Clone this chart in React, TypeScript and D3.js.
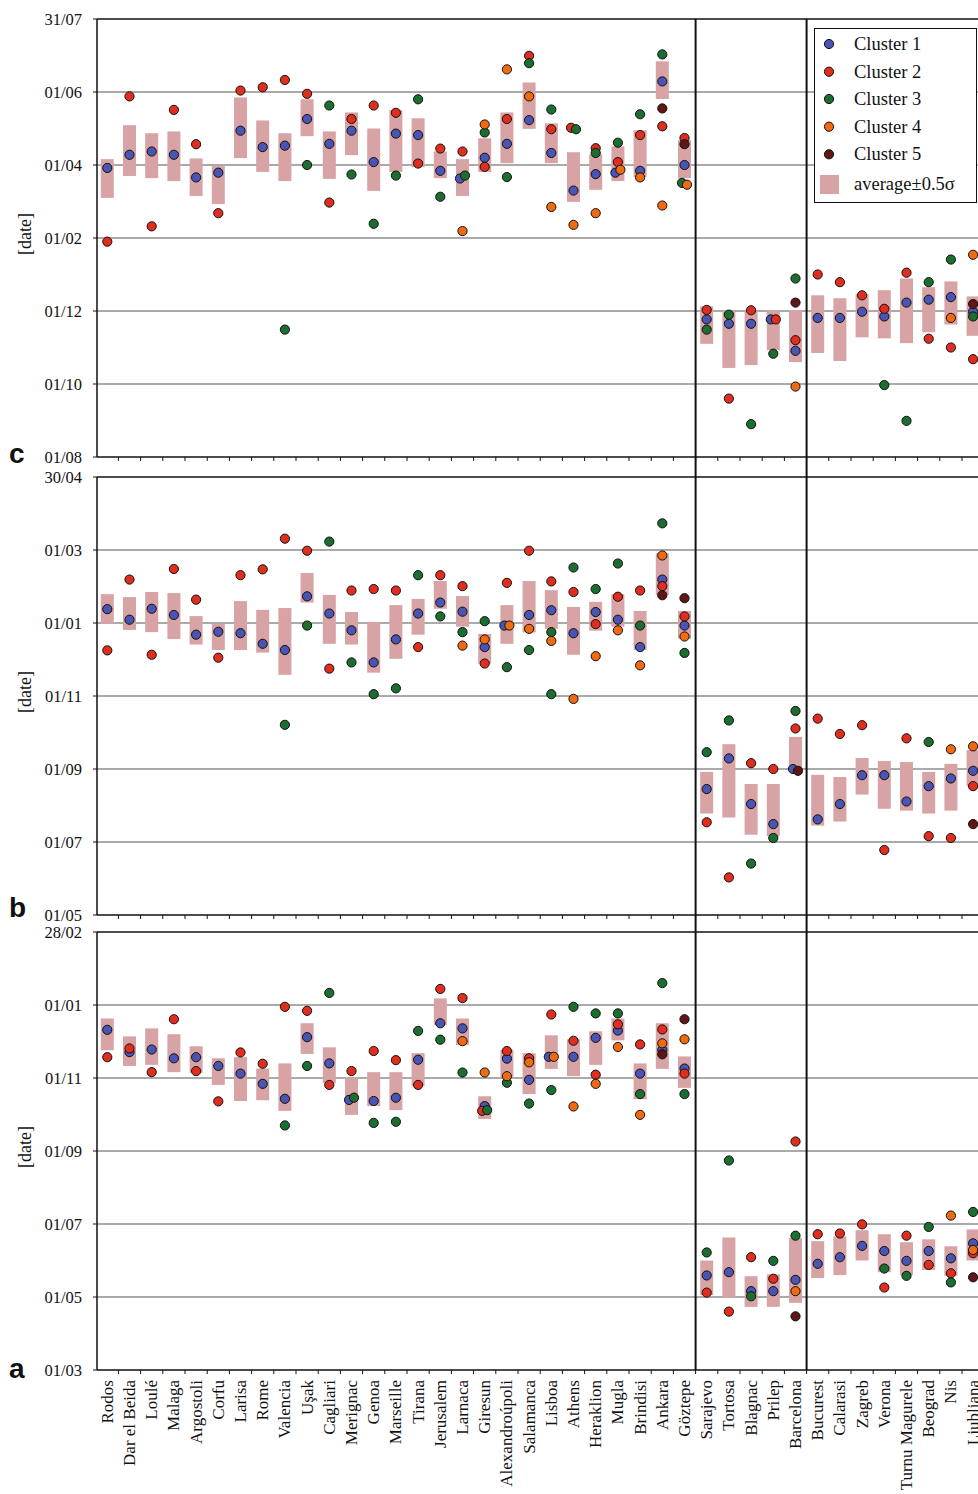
import React from "react";
import * as d3 from "d3";

// Stations in plotting order; vertical rules split them into three regional groups.
const stations = [
  "Rodos", "Dar el Beida", "Loulé", "Malaga", "Argostoli", "Corfu", "Larisa", "Rome",
  "Valencia", "Uşak", "Cagliari", "Merignac", "Genoa", "Marseille", "Tirana", "Jerusalem",
  "Larnaca", "Giresun", "Alexandroúpoli", "Salamanca", "Lisboa", "Athens", "Heraklion",
  "Mugla", "Brindisi", "Ankara", "Göztepe", "Sarajevo", "Tortosa", "Blagnac", "Prilep",
  "Barcelona", "Bucurest", "Calarasi", "Zagreb", "Verona", "Turnu Magurele", "Beograd",
  "Nis", "Ljubliana",
];
const groupBreaks = ["Sarajevo", "Bucurest"];

const clusterNames = ["Cluster 1", "Cluster 2", "Cluster 3", "Cluster 4", "Cluster 5"];
const clusterColors = ["#4a54b2", "#e12d1e", "#1b6e30", "#f06a12", "#5e1616"];
const bandLabel = "average±0.5σ";
const bandColor = "#d8a3a4";

// Axis labels; values are in months counted from the lowest tick.
const tickValues = [0, 2, 4, 6, 8, 10, 12];
const ticksC = ["01/08", "01/10", "01/12", "01/02", "01/04", "01/06", "31/07"];
const ticksB = ["01/05", "01/07", "01/09", "01/11", "01/01", "01/03", "30/04"];
const ticksA = ["01/03", "01/05", "01/07", "01/09", "01/11", "01/01", "28/02"];

// average±0.5σ bands per station: [low, high]
const bandsC: [number, number][] = [
  [7.10, 8.16], [7.70, 9.09], [7.64, 8.87], [7.56, 8.92], [7.15, 8.18], [6.93, 7.97],
  [8.19, 9.85], [7.81, 9.22], [7.56, 8.87], [8.79, 9.80], [7.62, 8.92], [8.27, 9.44],
  [7.29, 9.00], [7.81, 9.50], [7.94, 9.28], [7.64, 8.37], [7.15, 8.16], [7.81, 8.73],
  [8.05, 9.44], [8.99, 10.26], [8.05, 9.14], [6.99, 8.35], [7.32, 8.29], [7.56, 8.51],
  [7.67, 8.95], [9.81, 10.84], [7.64, 8.68], [3.10, 4.13], [2.44, 4.00], [2.52, 4.00],
  [2.93, 4.02], [2.60, 4.02], [2.85, 4.43], [2.63, 4.35], [3.28, 4.47], [3.25, 4.57],
  [3.12, 4.89], [3.42, 4.65], [3.63, 4.81], [3.32, 4.40],
];
const bandsB: [number, number][] = [
  [7.98, 8.79], [7.81, 8.71], [7.75, 8.85], [7.56, 8.82], [7.41, 8.19], [7.26, 7.98],
  [7.26, 8.60], [7.19, 8.36], [6.58, 8.41], [8.56, 9.37], [7.43, 8.77], [7.41, 8.30],
  [6.64, 8.03], [7.02, 8.49], [7.68, 8.66], [8.39, 9.15], [7.90, 8.74], [6.89, 7.70],
  [7.43, 8.49], [7.74, 9.15], [7.84, 8.90], [7.13, 8.44], [7.79, 8.58], [7.90, 8.79],
  [7.26, 8.33], [8.77, 9.91], [7.57, 8.33], [2.78, 3.92], [2.67, 4.68], [2.20, 3.59],
  [2.16, 3.59], [4.00, 4.88], [2.45, 3.84], [2.56, 3.78], [3.30, 4.30], [2.91, 4.22],
  [2.86, 4.19], [2.78, 3.92], [2.86, 4.14], [3.53, 4.52],
];
const bandsA: [number, number][] = [
  [8.76, 9.63], [8.33, 9.14], [8.36, 9.36], [8.16, 9.20], [8.14, 8.87], [7.81, 8.54],
  [7.37, 8.57], [7.39, 8.26], [7.10, 8.40], [8.66, 9.50], [7.86, 8.84], [6.99, 8.02],
  [7.23, 8.16], [7.12, 8.16], [7.78, 8.68], [9.45, 10.18], [8.90, 9.63], [6.88, 7.50],
  [8.02, 8.77], [7.56, 8.68], [8.25, 9.17], [8.05, 9.06], [8.36, 9.28], [9.03, 9.63],
  [7.42, 8.40], [8.25, 9.50], [7.73, 8.59], [2.05, 3.00], [1.98, 3.63], [1.73, 2.57],
  [1.73, 2.62], [1.84, 3.61], [2.52, 3.53], [2.60, 3.66], [3.00, 3.83], [2.68, 3.72],
  [2.60, 3.50], [2.74, 3.58], [2.58, 3.39], [3.00, 3.85],
];

// Cluster means per station: [cluster number, value]
const clustersC: [number, number][][] = [
  [[1, 7.92], [2, 5.90]],
  [[1, 8.28], [2, 9.88]],
  [[1, 8.37], [2, 6.32]],
  [[1, 8.28], [2, 9.51]],
  [[1, 7.66], [2, 8.57]],
  [[1, 7.79], [2, 6.68]],
  [[1, 8.94], [2, 10.04]],
  [[1, 8.49], [2, 10.13]],
  [[1, 8.53], [2, 10.33], [3, 3.49]],
  [[1, 9.26], [2, 9.95], [3, 8.00]],
  [[1, 8.58], [2, 6.97], [3, 9.63]],
  [[1, 8.94], [2, 9.26], [3, 7.74]],
  [[1, 8.08], [2, 9.63], [3, 6.39]],
  [[1, 8.86], [2, 9.43], [3, 7.71]],
  [[1, 8.82], [2, 8.04], [3, 9.80]],
  [[1, 7.84], [2, 8.45], [3, 7.13]],
  [[1, 7.63], [2, 8.37], [3, 7.71], [4, 6.19]],
  [[1, 8.20], [2, 7.95], [3, 8.89], [4, 9.11]],
  [[1, 8.58], [2, 9.26], [3, 7.67], [4, 10.62]],
  [[1, 9.23], [2, 10.99], [3, 10.79], [4, 9.88]],
  [[1, 8.33], [2, 8.98], [3, 9.52], [4, 6.85]],
  [[1, 7.30], [2, 9.02], [3, 8.98], [4, 6.36]],
  [[1, 7.75], [2, 8.46], [3, 8.33], [4, 6.68]],
  [[1, 7.79], [2, 8.08], [3, 8.61], [4, 7.87]],
  [[1, 7.84], [2, 8.82], [3, 9.39], [4, 7.66]],
  [[1, 10.29], [2, 9.06], [3, 11.03], [4, 6.89], [5, 9.55]],
  [[1, 8.00], [2, 8.74], [3, 7.51], [4, 7.46], [5, 8.57]],
  [[1, 3.77], [2, 4.03], [3, 3.49]],
  [[1, 3.65], [2, 1.60], [3, 3.90]],
  [[1, 3.65], [2, 4.02], [3, 0.90]],
  [[1, 3.77], [2, 3.77], [3, 2.83]],
  [[1, 2.91], [2, 3.20], [3, 4.89], [4, 1.93], [5, 4.23]],
  [[1, 3.81], [2, 5.00]],
  [[1, 3.81], [2, 4.79]],
  [[1, 3.98], [2, 4.43]],
  [[1, 3.85], [2, 4.06], [3, 1.97]],
  [[1, 4.23], [2, 5.05], [3, 0.99]],
  [[1, 4.31], [2, 3.24], [3, 4.79]],
  [[1, 4.38], [2, 3.00], [3, 5.41], [4, 3.81]],
  [[1, 3.98], [2, 2.68], [3, 3.85], [4, 5.54], [5, 4.19]],
];
const clustersB: [number, number][][] = [
  [[1, 8.38], [2, 7.25]],
  [[1, 8.09], [2, 9.19]],
  [[1, 8.39], [2, 7.13]],
  [[1, 8.22], [2, 9.48]],
  [[1, 7.68], [2, 8.64]],
  [[1, 7.76], [2, 7.05]],
  [[1, 7.72], [2, 9.31]],
  [[1, 7.43], [2, 9.47]],
  [[1, 7.26], [2, 10.31], [3, 5.21]],
  [[1, 8.73], [2, 9.98], [3, 7.93]],
  [[1, 8.26], [2, 6.75], [3, 10.23]],
  [[1, 7.80], [2, 8.89], [3, 6.92]],
  [[1, 6.92], [2, 8.93], [3, 6.05]],
  [[1, 7.55], [2, 8.89], [3, 6.21]],
  [[1, 8.26], [2, 7.34], [3, 9.31]],
  [[1, 8.56], [2, 9.31], [3, 8.18]],
  [[1, 8.31], [2, 9.01], [3, 7.75], [4, 7.38]],
  [[1, 7.34], [2, 6.89], [3, 8.05], [4, 7.55]],
  [[1, 7.93], [2, 9.10], [3, 6.79], [4, 7.93]],
  [[1, 8.22], [2, 9.98], [3, 7.26], [4, 7.84]],
  [[1, 8.35], [2, 9.14], [3, 7.75], [3, 6.05], [4, 7.51]],
  [[1, 7.72], [2, 8.85], [3, 9.52], [4, 5.92]],
  [[1, 8.30], [2, 7.97], [3, 8.93], [4, 7.09]],
  [[1, 8.09], [2, 8.72], [3, 9.63], [4, 7.80]],
  [[1, 7.34], [2, 8.89], [3, 7.93], [4, 6.84]],
  [[1, 9.19], [2, 9.01], [3, 10.73], [4, 9.85], [5, 8.76]],
  [[1, 7.93], [2, 8.18], [3, 7.18], [4, 7.63], [5, 8.68]],
  [[1, 3.45], [2, 2.54], [3, 4.46]],
  [[1, 4.29], [2, 1.03], [3, 5.33]],
  [[1, 3.04], [2, 4.16], [3, 1.41]],
  [[1, 2.49], [2, 4.00], [3, 2.11]],
  [[1, 4.00], [2, 5.11], [3, 5.59], [5, 3.95]],
  [[1, 2.62], [2, 5.38]],
  [[1, 3.04], [2, 4.96]],
  [[1, 3.83], [2, 5.20]],
  [[1, 3.83], [2, 1.78]],
  [[1, 3.11], [2, 4.84]],
  [[1, 3.53], [2, 2.16], [3, 4.74]],
  [[1, 3.74], [2, 2.11], [4, 4.54]],
  [[1, 3.95], [2, 3.53], [4, 4.62], [5, 2.49]],
];
const clustersA: [number, number][][] = [
  [[1, 9.32], [2, 8.57]],
  [[1, 8.71], [2, 8.81]],
  [[1, 8.78], [2, 8.16]],
  [[1, 8.54], [2, 9.61]],
  [[1, 8.57], [2, 8.19]],
  [[1, 8.33], [2, 7.36]],
  [[1, 8.12], [2, 8.70]],
  [[1, 7.84], [2, 8.39]],
  [[1, 7.43], [2, 9.95], [3, 6.70]],
  [[1, 9.12], [2, 9.84], [3, 8.33]],
  [[1, 8.40], [2, 7.81], [3, 10.33]],
  [[1, 7.40], [2, 8.19], [3, 7.46]],
  [[1, 7.37], [2, 8.74], [3, 6.77]],
  [[1, 7.46], [2, 8.49], [3, 6.80]],
  [[1, 8.50], [2, 7.81], [3, 9.29]],
  [[1, 9.50], [2, 10.44], [3, 9.05]],
  [[1, 9.36], [2, 10.19], [3, 8.15], [4, 9.01]],
  [[1, 7.23], [2, 7.10], [3, 7.12], [4, 8.15]],
  [[1, 8.53], [2, 8.74], [3, 7.87], [4, 8.05]],
  [[1, 7.95], [2, 8.54], [3, 7.30], [4, 8.43]],
  [[1, 8.58], [2, 9.74], [3, 7.67], [4, 8.58]],
  [[1, 8.58], [2, 9.02], [3, 9.95], [4, 7.22]],
  [[1, 9.10], [2, 8.09], [3, 9.77], [4, 7.84]],
  [[1, 9.30], [2, 9.47], [3, 9.77], [4, 8.85]],
  [[1, 8.12], [2, 8.92], [3, 7.56], [4, 6.99]],
  [[1, 8.77], [2, 9.33], [3, 10.60], [4, 8.95], [5, 8.65]],
  [[1, 8.26], [2, 8.12], [3, 7.56], [4, 9.06], [5, 9.61]],
  [[1, 2.59], [2, 2.12], [3, 3.22]],
  [[1, 2.68], [2, 1.60], [3, 5.74]],
  [[1, 2.16], [2, 3.09], [3, 2.02]],
  [[1, 2.16], [2, 2.50], [3, 2.99]],
  [[1, 2.47], [2, 6.26], [3, 3.68], [4, 2.16], [5, 1.47]],
  [[1, 2.91], [2, 3.72]],
  [[1, 3.09], [2, 3.74]],
  [[1, 3.40], [2, 3.99]],
  [[1, 3.26], [2, 2.26], [3, 2.78]],
  [[1, 2.99], [2, 3.68], [3, 2.58]],
  [[1, 3.26], [2, 2.88], [3, 3.92]],
  [[1, 3.06], [2, 2.65], [3, 2.40], [4, 4.23]],
  [[1, 3.47], [2, 3.20], [3, 4.33], [4, 3.29], [5, 2.54]],
];

const W = 978;
const H = 1494;
const PANEL_H = 438;
const LEFT = 97;
const RIGHT = 984;
const SERIF = "'Liberation Serif', 'Times New Roman', serif";
const SANS = "'Liberation Sans', Arial, sans-serif";

const x = d3.scaleBand<string>().domain(stations).range([96.2, 96.2 + 22.2 * stations.length]);

const panels = [
  { letter: "c", top: 19, ticks: ticksC, bands: bandsC, clusters: clustersC },
  { letter: "b", top: 477, ticks: ticksB, bands: bandsB, clusters: clustersB },
  { letter: "a", top: 932, ticks: ticksA, bands: bandsA, clusters: clustersA },
];

// Spread dots sideways when they would sit on top of each other.
function dodge(ys: number[]): number[] {
  const order = d3.range(ys.length).sort((a, b) => ys[a] - ys[b]);
  const groups: number[][] = [];
  for (const i of order) {
    const g = groups[groups.length - 1];
    if (g && ys[i] - ys[g[g.length - 1]] < 3.2) g.push(i);
    else groups.push([i]);
  }
  const dx = ys.map(() => 0);
  for (const g of groups) {
    if (g.length < 2) continue;
    const s = [...g].sort((a, b) => a - b);
    s.forEach((i, k) => (dx[i] = (k - (s.length - 1) / 2) * 5));
  }
  return dx;
}

function Panel({ p }: { p: (typeof panels)[number] }) {
  const bottom = p.top + PANEL_H;
  const y = d3.scaleLinear().domain([0, 12]).range([bottom, p.top]);
  const bw = 13;
  const edges = stations.map((s) => x(s)!).concat([x(stations[stations.length - 1])! + x.bandwidth()]);
  return (
    <g>
      {tickValues.slice(1, -1).map((t) => (
        <line key={t} x1={LEFT} x2={RIGHT} y1={y(t)} y2={y(t)} stroke="#8e8e8e" strokeWidth={1.5} />
      ))}
      {p.bands.map(([lo, hi], i) => {
        const cx = x(stations[i])! + x.bandwidth() / 2;
        return <rect key={i} x={cx - bw / 2} width={bw} y={y(hi)} height={y(lo) - y(hi)} fill={bandColor} />;
      })}
      {p.clusters.map((pts, i) => {
        const cx = x(stations[i])! + x.bandwidth() / 2;
        const ys = pts.map(([, v]) => y(v));
        const dx = dodge(ys);
        return pts.map(([c, v], k) => (
          <circle key={`${i}-${k}`} cx={cx + dx[k]} cy={y(v)} r={4.6} fill={clusterColors[c - 1]} stroke="#111" strokeWidth={1} />
        ));
      })}
      {/* frame */}
      <line x1={LEFT} x2={RIGHT} y1={p.top} y2={p.top} stroke="#111" strokeWidth={1.5} />
      <line x1={LEFT} x2={RIGHT} y1={bottom} y2={bottom} stroke="#111" strokeWidth={1.5} />
      <line x1={LEFT} x2={LEFT} y1={p.top} y2={bottom} stroke="#111" strokeWidth={1.5} />
      {edges.slice(1).map((ex, i) => (
        <line key={i} x1={ex} x2={ex} y1={bottom} y2={bottom + 4} stroke="#111" strokeWidth={1} />
      ))}
      {tickValues.map((t, i) => (
        <g key={t}>
          <line x1={LEFT - 4} x2={LEFT} y1={y(t)} y2={y(t)} stroke="#111" strokeWidth={1} />
          <text x={82} y={y(t) + 5.5} textAnchor="end" fontFamily={SERIF} fontSize={16.5} fill="#111">
            {p.ticks[i]}
          </text>
        </g>
      ))}
      <text
        transform={`translate(31,${(p.top + bottom) / 2 - 4}) rotate(-90)`}
        textAnchor="middle"
        fontFamily={SERIF}
        fontSize={18}
        fill="#111"
      >
        [date]
      </text>
      <text x={9} y={p.letter === "c" ? 463 : p.letter === "b" ? 917 : 1378} fontFamily={SANS} fontWeight="bold" fontSize={28} fill="#111">
        {p.letter}
      </text>
    </g>
  );
}

export default function App() {
  const top = panels[0].top;
  const bottom = panels[2].top + PANEL_H;
  const legendY = [44, 71.7, 99, 126.7, 154.3];
  return (
    <svg width={W} height={H} style={{ position: "absolute", left: 0, top: 0, background: "#fff" }}>
      <rect width={W} height={H} fill="#fff" />
      {panels.map((p) => (
        <Panel key={p.letter} p={p} />
      ))}
      {groupBreaks.map((s) => (
        <line key={s} x1={x(s)!} x2={x(s)!} y1={top} y2={bottom} stroke="#111" strokeWidth={2} />
      ))}
      {stations.map((s) => {
        const cx = x(s)! + x.bandwidth() / 2;
        return (
          <text
            key={s}
            transform={`translate(${cx + 5.5},${bottom + 10}) rotate(-90)`}
            textAnchor="end"
            fontFamily={SERIF}
            fontSize={17}
            fill="#111"
          >
            {s}
          </text>
        );
      })}
      <g>
        <rect x={814.5} y={28.5} width={162} height={174} fill="#fff" stroke="#111" strokeWidth={1} />
        {clusterNames.map((n, i) => (
          <g key={n}>
            <circle cx={829} cy={legendY[i]} r={4.6} fill={clusterColors[i]} stroke="#111" strokeWidth={1} />
            <text x={854} y={legendY[i] + 6} fontFamily={SERIF} fontSize={18.5} fill="#111">
              {n}
            </text>
          </g>
        ))}
        <rect x={820} y={175} width={19} height={19} fill={bandColor} />
        <text x={854} y={190} fontFamily={SERIF} fontSize={18.5} fill="#111">
          {bandLabel}
        </text>
      </g>
    </svg>
  );
}
